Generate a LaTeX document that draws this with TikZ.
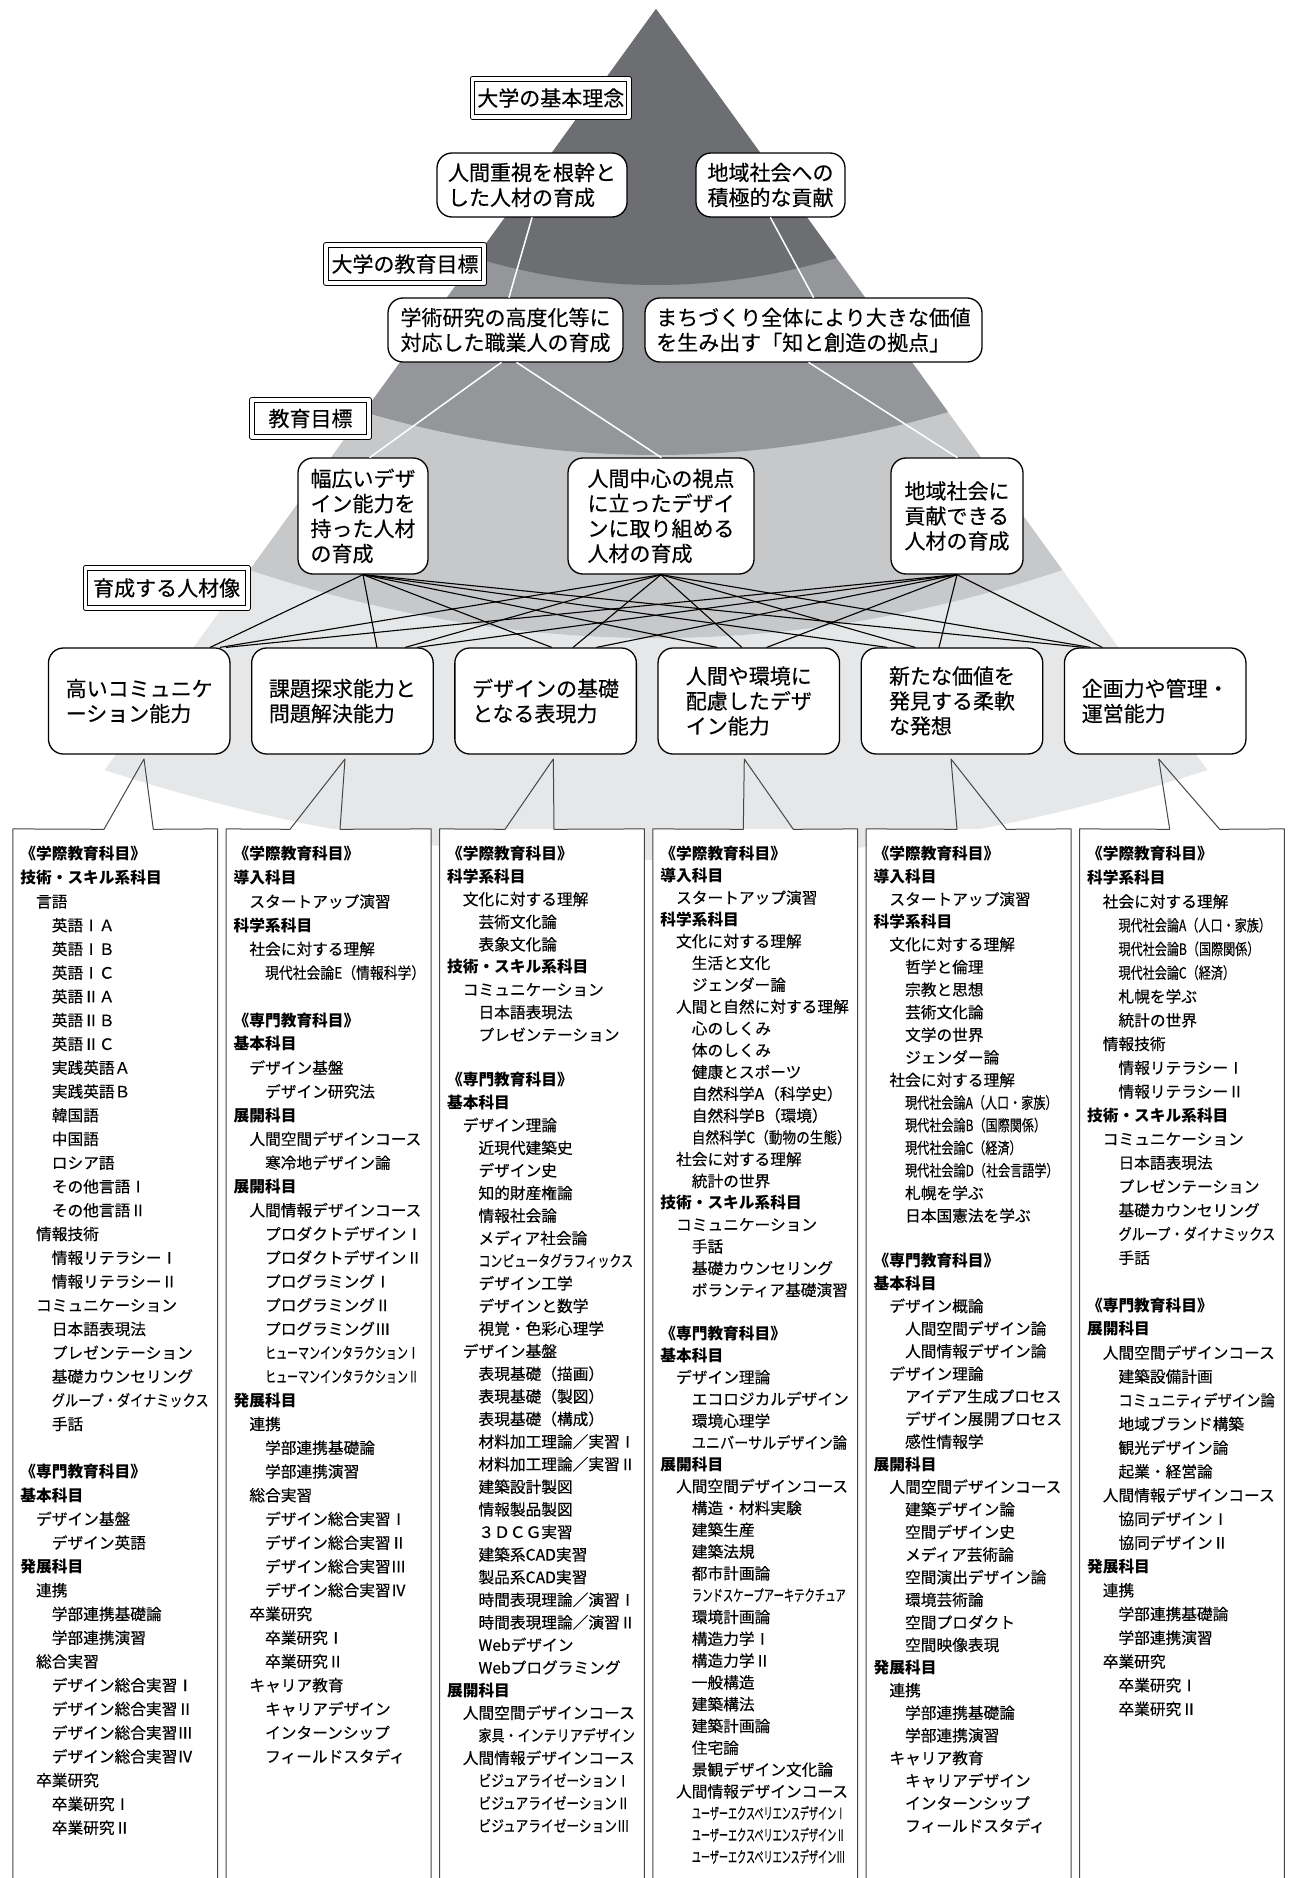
\documentclass[tikz,border=0pt]{standalone}
\usepackage{fontspec}
\setmainfont{Noto Sans CJK JP}[UprightFeatures={FakeBold=0.3}]
\usepackage{graphicx}
\definecolor{layA}{RGB}{109,110,113}
\definecolor{layB}{RGB}{148,150,153}
\definecolor{layC}{RGB}{199,200,202}
\definecolor{layD}{RGB}{230,231,232}
\definecolor{rulegray}{RGB}{70,70,70}
\newcommand{\lvA}{\hspace*{1em}}
\newcommand{\lvB}{\hspace*{2em}}
\newcommand{\hd}[1]{\textbf{#1}}
\newcommand{\nar}[2]{\scalebox{#1}[1]{#2}}
\tikzset{
  headbox/.style={draw, fill=white, double, double distance=1.8pt, line width=0.5pt, inner sep=0pt, font=\fontsize{10.5pt}{12.5pt}\selectfont},
  goal/.style={draw, fill=white, rounded corners=7.5pt, line width=0.65pt, inner sep=0pt, align=left, font=\fontsize{10.5pt}{12.5pt}\selectfont},
  wline/.style={white, line width=0.75pt},
  link/.style={line width=0.55pt},
  colbg/.style={fill=white, inner sep=0pt, minimum width=102pt, minimum height=524.35pt},
  colline/.style={draw=rulegray, line width=0.5pt},
  coltext/.style={anchor=north west, inner sep=0pt, align=left},
  colA/.style={coltext, font=\fontsize{7.85pt}{11.875pt}\selectfont},
  colB/.style={coltext, font=\fontsize{7.85pt}{11.3pt}\selectfont},
  colC/.style={coltext, font=\fontsize{7.85pt}{10.9pt}\selectfont}
}
\begin{document}
\begin{tikzpicture}[x=0.5pt, y=-0.5pt, line join=round, line cap=round]
  \useasboundingbox (0,0) rectangle (1297,1878);
  \fill[white] (0,0) rectangle (1297,1878);

  \fill[layD] (656,9) -- (104.7,770) .. controls (472.2,890) and (839.8,890) .. (1207.3,770) -- cycle;
  \fill[layC] (656,9) -- (249.6,570) .. controls (520.5,660.7) and (791.5,660.7) .. (1062.4,570) -- cycle;
  \fill[layB] (656,9) -- (364,412) .. controls (558.7,469.3) and (753.3,469.3) .. (948,412) -- cycle;
  \fill[layA] (656,9) -- (475.6,258) .. controls (595.9,294) and (716.1,294) .. (836.4,258) -- cycle;

  \node[headbox, minimum width=78.45pt, minimum height=19.2pt] (h1) at (550.8,98) {大学の基本理念};
  \node[headbox, minimum width=79.2pt, minimum height=19.2pt] (h2) at (405,264) {大学の教育目標};
  \node[headbox, minimum width=58.7pt, minimum height=18.7pt] (h3) at (310.5,418.5) {教育目標};
  \node[headbox, minimum width=81.2pt, minimum height=20.2pt] (h4) at (166.7,588) {育成する人材像};

  \node[goal, minimum width=95pt, minimum height=32pt] (v1) at (532,185) {人間重視を根幹と\\した人材の育成};
  \node[goal, minimum width=74.5pt, minimum height=32pt] (v2) at (770.5,185) {地域社会への\\積極的な貢献};
  \node[goal, minimum width=117.5pt, minimum height=32pt] (g1) at (505.5,330) {学術研究の高度化等に\\対応した職業人の育成};
  \node[goal, minimum width=168.5pt, minimum height=32pt] (g2) at (813.5,330) {まちづくり全体により大きな価値\\を生み出す「知と創造の拠点」};
  \node[goal, minimum width=65pt, minimum height=58pt] (e1) at (363,516) {幅広いデザ\\イン能力を\\持った人材\\の育成};
  \node[goal, minimum width=93pt, minimum height=58pt] (e2) at (661,516) {人間中心の視点\\に立ったデザイ\\ンに取り組める\\人材の育成};
  \node[goal, minimum width=66pt, minimum height=58pt] (e3) at (957,516) {地域社会に\\貢献できる\\人材の育成};

  \draw[wline] (v1.south) -- ([xshift=1.75pt]g1.north);
  \draw[wline] (v2.south) -- (g2.north);
  \draw[wline] ([xshift=-2.25pt]g1.south) -- ([xshift=3.5pt]e1.north);
  \draw[wline] ([xshift=5.75pt]g1.south) -- (e2.north);
  \draw[wline] ([xshift=-2.25pt]g2.south) -- (e3.north);

  \node[goal, minimum width=90.75pt, minimum height=53pt] (b1) at (139.2,701) {高いコミュニケ\\ーション能力};
  \node[goal, minimum width=90.75pt, minimum height=53pt] (b2) at (342.4,701) {課題探求能力と\\問題解決能力};
  \node[goal, minimum width=90.75pt, minimum height=53pt] (b3) at (545.6,701) {デザインの基礎\\となる表現力};
  \node[goal, minimum width=90.75pt, minimum height=53pt] (b4) at (748.8,701) {人間や環境に\\配慮したデザ\\イン能力};
  \node[goal, minimum width=90.75pt, minimum height=53pt] (b5) at (952,701) {新たな価値を\\発見する柔軟\\な発想};
  \node[goal, minimum width=90.75pt, minimum height=53pt] (b6) at (1155.2,701) {企画力や管理・\\運営能力};

  \foreach \j/\a/\b/\c in {1/35.5/40.5/43.5, 2/17.25/31.5/37.5, 3/3/13.75/25.5, 4/-16/-3.5/9, 5/-32.5/-18.5/-6.5, 6/-35.8/-32.5/-26.5}{
    \draw[link] (e1.south) -- ([xshift=\a pt]b\j.north);
    \draw[link] (e2.south) -- ([xshift=\b pt]b\j.north);
    \draw[link] (e3.south) -- ([xshift=\c pt]b\j.north);
  }

  \foreach \j/\px/\lx/\rx in {1/144/104/153.3, 2/345/290/340, 3/553.3/505/554, 4/744.3/743.3/793.3, 5/951/957/1006.3, 6/1158.7/1169.7/1219.7}{
    \node[colbg] (c\j) at ({115.3+213.33*(\j-1)},1353.65) {};
    \coordinate (p\j) at (\px,759);
    \coordinate (l\j) at (\lx,829.3);
    \coordinate (r\j) at (\rx,829.3);
    \draw[colline] (c\j.south west) -- (c\j.north west) -- (l\j) -- (p\j) -- (r\j) -- (c\j.north east) -- (c\j.south east);
  }

  \node[colA] (t1) at (20,846) {\hd{《学際教育科目》}\\
    \hd{技術・スキル系科目}\\
    \lvA 言語\\
    \lvB 英語ⅠＡ\\
    \lvB 英語ⅠＢ\\
    \lvB 英語ⅠＣ\\
    \lvB 英語ⅡＡ\\
    \lvB 英語ⅡＢ\\
    \lvB 英語ⅡＣ\\
    \lvB 実践英語Ａ\\
    \lvB 実践英語Ｂ\\
    \lvB 韓国語\\
    \lvB 中国語\\
    \lvB ロシア語\\
    \lvB その他言語Ⅰ\\
    \lvB その他言語Ⅱ\\
    \lvA 情報技術\\
    \lvB 情報リテラシーⅠ\\
    \lvB 情報リテラシーⅡ\\
    \lvA コミュニケーション\\
    \lvB 日本語表現法\\
    \lvB プレゼンテーション\\
    \lvB 基礎カウンセリング\\
    \lvB \nar{0.84}{グループ・ダイナミックス}\\
    \lvB 手話\\
    \mbox{}\\
    \hd{《専門教育科目》}\\
    \hd{基本科目}\\
    \lvA デザイン基盤\\
    \lvB デザイン英語\\
    \hd{発展科目}\\
    \lvA 連携\\
    \lvB 学部連携基礎論\\
    \lvB 学部連携演習\\
    \lvA 総合実習\\
    \lvB デザイン総合実習Ⅰ\\
    \lvB デザイン総合実習Ⅱ\\
    \lvB デザイン総合実習Ⅲ\\
    \lvB デザイン総合実習Ⅳ\\
    \lvA 卒業研究\\
    \lvB 卒業研究Ⅰ\\
    \lvB 卒業研究Ⅱ};

  \node[colA] (t2) at (233.3,846) {\hd{《学際教育科目》}\\
    \hd{導入科目}\\
    \lvA スタートアップ演習\\
    \hd{科学系科目}\\
    \lvA 社会に対する理解\\
    \lvB \nar{0.88}{現代社会論E（情報科学）}\\
    \mbox{}\\
    \hd{《専門教育科目》}\\
    \hd{基本科目}\\
    \lvA デザイン基盤\\
    \lvB デザイン研究法\\
    \hd{展開科目}\\
    \lvA 人間空間デザインコース\\
    \lvB 寒冷地デザイン論\\
    \hd{展開科目}\\
    \lvA 人間情報デザインコース\\
    \lvB プロダクトデザインⅠ\\
    \lvB プロダクトデザインⅡ\\
    \lvB プログラミングⅠ\\
    \lvB プログラミングⅡ\\
    \lvB プログラミングⅢ\\
    \lvB \nar{0.7}{ヒューマンインタラクションⅠ}\\
    \lvB \nar{0.7}{ヒューマンインタラクションⅡ}\\
    \hd{発展科目}\\
    \lvA 連携\\
    \lvB 学部連携基礎論\\
    \lvB 学部連携演習\\
    \lvA 総合実習\\
    \lvB デザイン総合実習Ⅰ\\
    \lvB デザイン総合実習Ⅱ\\
    \lvB デザイン総合実習Ⅲ\\
    \lvB デザイン総合実習Ⅳ\\
    \lvA 卒業研究\\
    \lvB 卒業研究Ⅰ\\
    \lvB 卒業研究Ⅱ\\
    \lvA キャリア教育\\
    \lvB キャリアデザイン\\
    \lvB インターンシップ\\
    \lvB フィールドスタディ};

  \node[colB] (t3) at (446.7,846) {\hd{《学際教育科目》}\\
    \hd{科学系科目}\\
    \lvA 文化に対する理解\\
    \lvB 芸術文化論\\
    \lvB 表象文化論\\
    \hd{技術・スキル系科目}\\
    \lvA コミュニケーション\\
    \lvB 日本語表現法\\
    \lvB プレゼンテーション\\
    \mbox{}\\
    \hd{《専門教育科目》}\\
    \hd{基本科目}\\
    \lvA デザイン理論\\
    \lvB 近現代建築史\\
    \lvB デザイン史\\
    \lvB 知的財産権論\\
    \lvB 情報社会論\\
    \lvB メディア社会論\\
    \lvB \nar{0.76}{コンピュータグラフィックス}\\
    \lvB デザイン工学\\
    \lvB デザインと数学\\
    \lvB 視覚・色彩心理学\\
    \lvA デザイン基盤\\
    \lvB 表現基礎（描画）\\
    \lvB 表現基礎（製図）\\
    \lvB 表現基礎（構成）\\
    \lvB 材料加工理論／実習Ⅰ\\
    \lvB 材料加工理論／実習Ⅱ\\
    \lvB 建築設計製図\\
    \lvB 情報製品製図\\
    \lvB ３ＤＣＧ実習\\
    \lvB 建築系CAD実習\\
    \lvB 製品系CAD実習\\
    \lvB 時間表現理論／演習Ⅰ\\
    \lvB 時間表現理論／演習Ⅱ\\
    \lvB Webデザイン\\
    \lvB Webプログラミング\\
    \hd{展開科目}\\
    \lvA 人間空間デザインコース\\
    \lvB \nar{0.83}{家具・インテリアデザイン}\\
    \lvA 人間情報デザインコース\\
    \lvB \nar{0.81}{ビジュアライゼーションⅠ}\\
    \lvB \nar{0.81}{ビジュアライゼーションⅡ}\\
    \lvB \nar{0.81}{ビジュアライゼーションⅢ}};

  \node[colC] (t4) at (660,846) {\hd{《学際教育科目》}\\
    \hd{導入科目}\\
    \lvA スタートアップ演習\\
    \hd{科学系科目}\\
    \lvA 文化に対する理解\\
    \lvB 生活と文化\\
    \lvB ジェンダー論\\
    \lvA 人間と自然に対する理解\\
    \lvB 心のしくみ\\
    \lvB 体のしくみ\\
    \lvB 健康とスポーツ\\
    \lvB 自然科学A（科学史）\\
    \lvB 自然科学B（環境）\\
    \lvB \nar{0.87}{自然科学C（動物の生態）}\\
    \lvA 社会に対する理解\\
    \lvB 統計の世界\\
    \hd{技術・スキル系科目}\\
    \lvA コミュニケーション\\
    \lvB 手話\\
    \lvB 基礎カウンセリング\\
    \lvB ボランティア基礎演習\\
    \mbox{}\\
    \hd{《専門教育科目》}\\
    \hd{基本科目}\\
    \lvA デザイン理論\\
    \lvB エコロジカルデザイン\\
    \lvB 環境心理学\\
    \lvB \nar{0.9}{ユニバーサルデザイン論}\\
    \hd{展開科目}\\
    \lvA 人間空間デザインコース\\
    \lvB 構造・材料実験\\
    \lvB 建築生産\\
    \lvB 建築法規\\
    \lvB 都市計画論\\
    \lvB \nar{0.66}{ランドスケープアーキテクチュア}\\
    \lvB 環境計画論\\
    \lvB 構造力学Ⅰ\\
    \lvB 構造力学Ⅱ\\
    \lvB 一般構造\\
    \lvB 建築構法\\
    \lvB 建築計画論\\
    \lvB 住宅論\\
    \lvB 景観デザイン文化論\\
    \lvA 人間情報デザインコース\\
    \lvB \nar{0.58}{ユーザーエクスペリエンスデザインⅠ}\\
    \lvB \nar{0.58}{ユーザーエクスペリエンスデザインⅡ}\\
    \lvB \nar{0.58}{ユーザーエクスペリエンスデザインⅢ}};

  \node[colB] (t5) at (873.3,846) {\hd{《学際教育科目》}\\
    \hd{導入科目}\\
    \lvA スタートアップ演習\\
    \hd{科学系科目}\\
    \lvA 文化に対する理解\\
    \lvB 哲学と倫理\\
    \lvB 宗教と思想\\
    \lvB 芸術文化論\\
    \lvB 文学の世界\\
    \lvB ジェンダー論\\
    \lvA 社会に対する理解\\
    \lvB \nar{0.77}{現代社会論A（人口・家族）}\\
    \lvB \nar{0.77}{現代社会論B（国際関係）}\\
    \lvB \nar{0.77}{現代社会論C（経済）}\\
    \lvB \nar{0.77}{現代社会論D（社会言語学）}\\
    \lvB 札幌を学ぶ\\
    \lvB 日本国憲法を学ぶ\\
    \mbox{}\\
    \hd{《専門教育科目》}\\
    \hd{基本科目}\\
    \lvA デザイン概論\\
    \lvB 人間空間デザイン論\\
    \lvB 人間情報デザイン論\\
    \lvA デザイン理論\\
    \lvB アイデア生成プロセス\\
    \lvB デザイン展開プロセス\\
    \lvB 感性情報学\\
    \hd{展開科目}\\
    \lvA 人間空間デザインコース\\
    \lvB 建築デザイン論\\
    \lvB 空間デザイン史\\
    \lvB メディア芸術論\\
    \lvB 空間演出デザイン論\\
    \lvB 環境芸術論\\
    \lvB 空間プロダクト\\
    \lvB 空間映像表現\\
    \hd{発展科目}\\
    \lvA 連携\\
    \lvB 学部連携基礎論\\
    \lvB 学部連携演習\\
    \lvA キャリア教育\\
    \lvB キャリアデザイン\\
    \lvB インターンシップ\\
    \lvB フィールドスタディ};

  \node[colA] (t6) at (1086.7,846) {\hd{《学際教育科目》}\\
    \hd{科学系科目}\\
    \lvA 社会に対する理解\\
    \lvB \nar{0.77}{現代社会論A（人口・家族）}\\
    \lvB \nar{0.77}{現代社会論B（国際関係）}\\
    \lvB \nar{0.77}{現代社会論C（経済）}\\
    \lvB 札幌を学ぶ\\
    \lvB 統計の世界\\
    \lvA 情報技術\\
    \lvB 情報リテラシーⅠ\\
    \lvB 情報リテラシーⅡ\\
    \hd{技術・スキル系科目}\\
    \lvA コミュニケーション\\
    \lvB 日本語表現法\\
    \lvB プレゼンテーション\\
    \lvB 基礎カウンセリング\\
    \lvB \nar{0.84}{グループ・ダイナミックス}\\
    \lvB 手話\\
    \mbox{}\\
    \hd{《専門教育科目》}\\
    \hd{展開科目}\\
    \lvA 人間空間デザインコース\\
    \lvB 建築設備計画\\
    \lvB \nar{0.91}{コミュニティデザイン論}\\
    \lvB 地域ブランド構築\\
    \lvB 観光デザイン論\\
    \lvB 起業・経営論\\
    \lvA 人間情報デザインコース\\
    \lvB 協同デザインⅠ\\
    \lvB 協同デザインⅡ\\
    \hd{発展科目}\\
    \lvA 連携\\
    \lvB 学部連携基礎論\\
    \lvB 学部連携演習\\
    \lvA 卒業研究\\
    \lvB 卒業研究Ⅰ\\
    \lvB 卒業研究Ⅱ};
\end{tikzpicture}
\end{document}
